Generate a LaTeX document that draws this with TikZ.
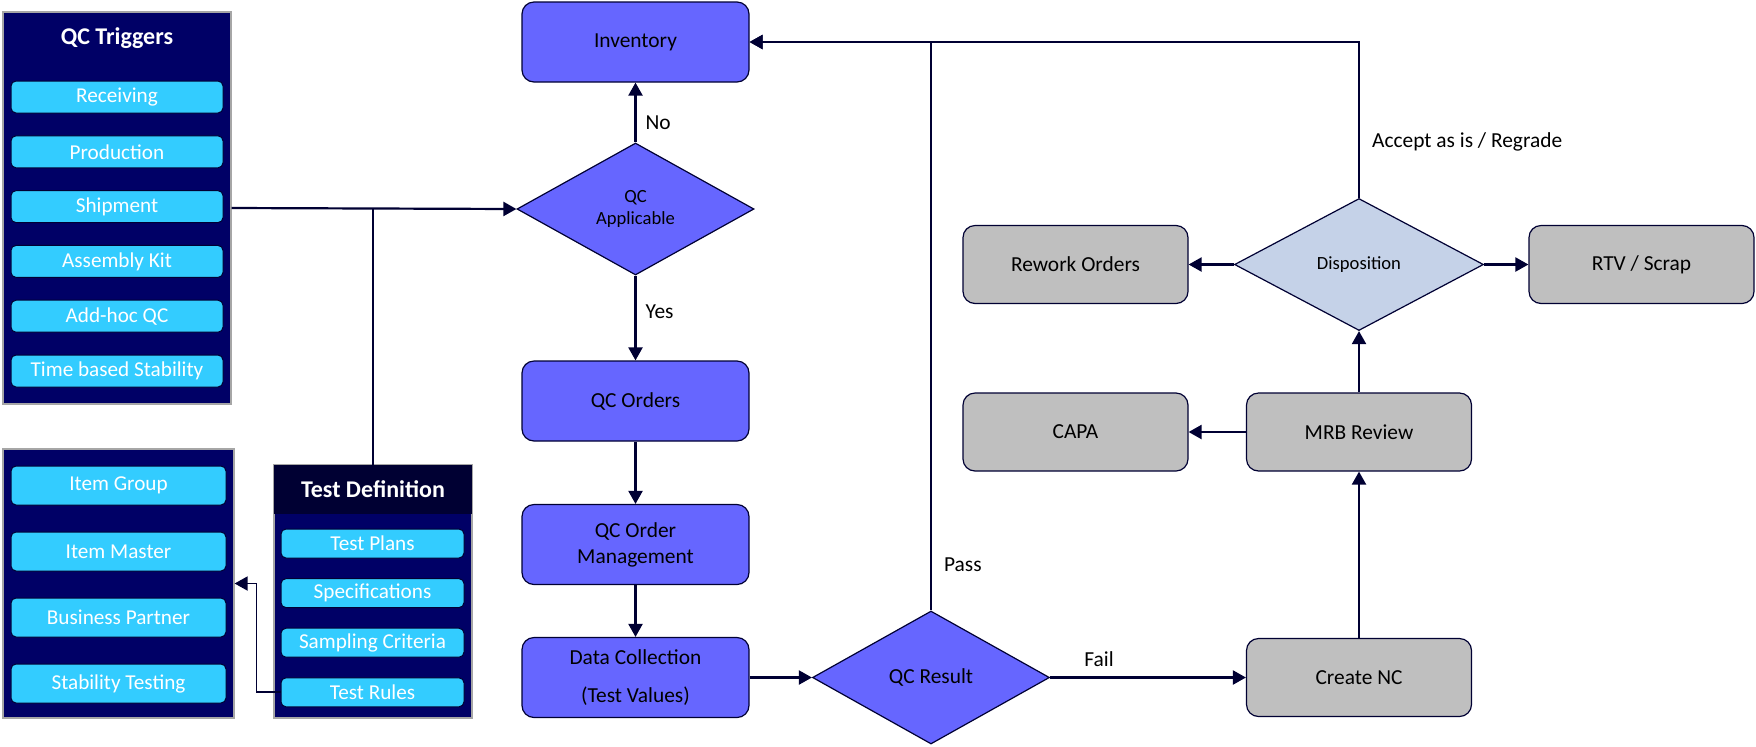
\documentclass[tikz,border=0pt]{standalone}
\usepackage{fontspec}
\setmainfont{Carlito}
\usetikzlibrary{arrows.meta,shapes.geometric,positioning}
\tikzset{>={Triangle[width=7pt,length=6.5pt]}}
\definecolor{navy}{HTML}{000066}
\definecolor{deepnavy}{HTML}{000033}
\definecolor{cyanbox}{HTML}{33CCFF}
\definecolor{procblue}{HTML}{6666FF}
\definecolor{greybox}{HTML}{BFBFBF}
\definecolor{paleblue}{HTML}{C5D2E8}
\newcommand{\fsz}[2]{\fontsize{#1}{#2}\selectfont}

\begin{document}
\begin{tikzpicture}[x=0.5pt, y=-0.5pt,
  panel/.style={draw=gray!70, line width=0.6pt, fill=navy, inner sep=0pt},
  item/.style={draw=deepnavy, line width=0.5pt, fill=cyanbox, rounded corners=2.5pt,
    text=white, inner sep=0pt, minimum width=106pt, minimum height=16pt, font=\fsz{10.6}{13}},
  proc/.style={draw=deepnavy, line width=0.6pt, fill=procblue, rounded corners=6pt,
    minimum width=113.5pt, minimum height=40pt, align=center, font=\fsz{10.7}{13}},
  action/.style={proc, fill=greybox, minimum width=112.5pt, minimum height=39pt},
  decision/.style={diamond, draw=deepnavy, line width=0.6pt, fill=procblue, inner sep=0pt,
    aspect=1.8, minimum width=118.5pt, minimum height=66pt, align=center},
  conn/.style={draw=deepnavy, line width=1.1pt, ->},
  lbl/.style={font=\fsz{10.7}{13}, inner sep=0pt}]

  \useasboundingbox (0,0) rectangle (1756,746);

  %% QC triggers
  \node[panel, minimum width=114pt, minimum height=196pt] (trig) at (117,208) {};
  \node[text=white, font=\bfseries\fsz{12}{14}] (trigtitle) at (117,38) {QC Triggers};
  \foreach \name/\txt [count=\i from 0] in {rcv/Receiving, prod/Production,
      ship/Shipment, kit/Assembly Kit, adhoc/Add-hoc QC, stab/Time based Stability}
    \node[item] (\name) at (117,{97+54.8*\i}) {\txt};

  %% master data
  \node[panel, minimum width=115.5pt, minimum height=134.5pt] (master) at (118.5,583.5) {};
  \foreach \name/\txt [count=\i from 0] in {igrp/Item Group, imast/Item Master,
      bp/Business Partner, stest/Stability Testing}
    \node[item, minimum width=107.5pt, minimum height=19.5pt] (\name) at (118.5,{485.5+66*\i}) {\txt};

  %% test definition
  \node[panel, minimum width=99pt, minimum height=126.5pt] (testdef) at (373,591.5) {};
  \node[fill=deepnavy, inner sep=0pt, minimum width=99pt, minimum height=24.5pt,
    text=white, font=\bfseries\fsz{12}{14}] (tdhead) at (373,489.5) {Test Definition};
  \foreach \name/\txt [count=\i from 0] in {tplan/Test Plans, spec/Specifications,
      samp/Sampling Criteria, trule/Test Rules}
    \node[item, minimum width=91.5pt, minimum height=14.5pt] (\name) at (372.5,{543.5+49.6*\i}) {\txt};

  %% QC flow
  \node[proc] (inv) at (635.5,42) {Inventory};
  \node[decision, font=\fsz{9.3}{11}] (app) at (635.5,209) {QC\\Applicable};
  \node[proc] (ord) at (635.5,401) {QC Orders};
  \node[proc] (mgmt) at (635.5,544.5) {QC Order\\Management};
  \node[proc, font=\fsz{10.7}{19}] (coll) at (635.5,677.5) {Data Collection\\(Test Values)};
  \node[decision, minimum height=66.5pt, font=\fsz{10.7}{13}] (res) at (931,677.5) {QC Result};

  %% non conformance
  \node[action] (nc) at (1359,677.5) {Create NC};
  \node[action] (mrb) at (1359,432) {MRB Review};
  \node[action] (capa) at (1075.5,432) {CAPA};
  \node[decision, fill=paleblue, minimum width=124.5pt, font=\fsz{9.3}{11}] (disp) at (1359,264.5) {Disposition};
  \node[action] (rework) at (1075.5,264.5) {Rework Orders};
  \node[action] (rtv) at (1641.5,264.5) {RTV / Scrap};

  %% connectors
  \draw[conn] (trig.east) -- (app.west);
  \draw[conn, -] (tdhead.north) -- (tdhead.north |- trig.east);
  \draw[conn, line width=0.9pt] (trule.west) -- ++(-24,0) |- (master.east);

  \draw[conn] (app.north) -- node[lbl, pos=0.33, right=4.5pt] {No} (inv.south);
  \draw[conn] (app.south) -- node[lbl, pos=0.43, right=4.5pt] {Yes} (ord.north);
  \draw[conn] (ord) -- (mgmt);
  \draw[conn] (mgmt) -- (coll);
  \draw[conn] (coll.east) -- (res.west);
  \draw[conn] (res.north) |- node[lbl, pos=0.04, right=6pt] {Pass} (inv.east);
  \draw[conn] (res.east) -- node[lbl, pos=0.25, above=5pt] {Fail} (nc.west);
  \draw[conn] (nc) -- (mrb);
  \draw[conn] (mrb) -- (capa);
  \draw[conn] (mrb) -- (disp);
  \draw[conn] (disp.west) -- (rework.east);
  \draw[conn] (disp.east) -- (rtv.west);
  \draw[conn] (disp.north) |- node[lbl, pos=0.18, right=6pt] {Accept as is / Regrade} (inv.east);

\end{tikzpicture}
\end{document}
